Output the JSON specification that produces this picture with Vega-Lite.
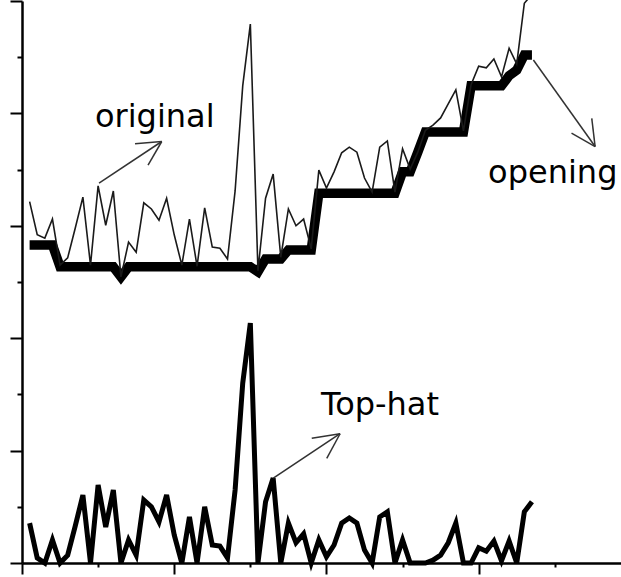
{
  "$schema": "https://vega.github.io/schema/vega-lite/v6.json",
  "width": 599,
  "height": 562,
  "autosize": {"type": "none"},
  "padding": {"left": 22, "top": 1, "right": 0, "bottom": 14},
  "background": "white",
  "config": {"view": {"stroke": null}, "axis": {"labels": false, "grid": false, "title": null, "domainColor": "#000", "domainWidth": 2.5, "tickColor": "#000", "tickWidth": 2}},
  "datasets": {
    "series": [
      {"x": 1, "original": 6.43, "opening": 5.66, "tophat": 0.71},
      {"x": 2, "original": 5.84, "opening": 5.66, "tophat": 0.09},
      {"x": 3, "original": 5.78, "opening": 5.66, "tophat": 0},
      {"x": 4, "original": 6.12, "opening": 5.66, "tophat": 0.41},
      {"x": 5, "original": 5.30, "opening": 5.27, "tophat": 0},
      {"x": 6, "original": 5.43, "opening": 5.27, "tophat": 0.14},
      {"x": 7, "original": 5.96, "opening": 5.27, "tophat": 0.66},
      {"x": 8, "original": 6.51, "opening": 5.27, "tophat": 1.21},
      {"x": 9, "original": 5.30, "opening": 5.27, "tophat": 0},
      {"x": 10, "original": 6.71, "opening": 5.27, "tophat": 1.39},
      {"x": 11, "original": 6.01, "opening": 5.27, "tophat": 0.64},
      {"x": 12, "original": 6.62, "opening": 5.27, "tophat": 1.30},
      {"x": 13, "original": 5.09, "opening": 5.09, "tophat": 0},
      {"x": 14, "original": 5.71, "opening": 5.27, "tophat": 0.41},
      {"x": 15, "original": 5.53, "opening": 5.27, "tophat": 0.14},
      {"x": 16, "original": 6.41, "opening": 5.27, "tophat": 1.12},
      {"x": 17, "original": 6.30, "opening": 5.27, "tophat": 1.00},
      {"x": 18, "original": 6.10, "opening": 5.27, "tophat": 0.73},
      {"x": 19, "original": 6.49, "opening": 5.27, "tophat": 1.21},
      {"x": 20, "original": 5.84, "opening": 5.27, "tophat": 0.50},
      {"x": 21, "original": 5.30, "opening": 5.27, "tophat": 0},
      {"x": 22, "original": 6.12, "opening": 5.27, "tophat": 0.82},
      {"x": 23, "original": 5.28, "opening": 5.27, "tophat": 0},
      {"x": 24, "original": 6.32, "opening": 5.27, "tophat": 1.00},
      {"x": 25, "original": 5.62, "opening": 5.27, "tophat": 0.32},
      {"x": 26, "original": 5.60, "opening": 5.27, "tophat": 0.30},
      {"x": 27, "original": 5.41, "opening": 5.27, "tophat": 0.09},
      {"x": 28, "original": 6.62, "opening": 5.27, "tophat": 1.30},
      {"x": 29, "original": 8.49, "opening": 5.27, "tophat": 3.20},
      {"x": 30, "original": 9.59, "opening": 5.27, "tophat": 4.27},
      {"x": 31, "original": 5.20, "opening": 5.18, "tophat": 0},
      {"x": 32, "original": 6.49, "opening": 5.41, "tophat": 1.09},
      {"x": 33, "original": 6.92, "opening": 5.41, "tophat": 1.51},
      {"x": 34, "original": 5.44, "opening": 5.41, "tophat": 0},
      {"x": 35, "original": 6.30, "opening": 5.57, "tophat": 0.71},
      {"x": 36, "original": 6.00, "opening": 5.57, "tophat": 0.36},
      {"x": 37, "original": 6.12, "opening": 5.57, "tophat": 0.52},
      {"x": 38, "original": 5.59, "opening": 5.57, "tophat": 0},
      {"x": 39, "original": 6.99, "opening": 6.58, "tophat": 0.41},
      {"x": 40, "original": 6.67, "opening": 6.58, "tophat": 0.11},
      {"x": 41, "original": 6.96, "opening": 6.58, "tophat": 0.32},
      {"x": 42, "original": 7.30, "opening": 6.58, "tophat": 0.71},
      {"x": 43, "original": 7.40, "opening": 6.58, "tophat": 0.80},
      {"x": 44, "original": 7.31, "opening": 6.58, "tophat": 0.71},
      {"x": 45, "original": 6.85, "opening": 6.58, "tophat": 0.23},
      {"x": 46, "original": 6.60, "opening": 6.58, "tophat": 0},
      {"x": 47, "original": 7.40, "opening": 6.58, "tophat": 0.82},
      {"x": 48, "original": 7.51, "opening": 6.58, "tophat": 0.91},
      {"x": 49, "original": 6.60, "opening": 6.58, "tophat": 0},
      {"x": 50, "original": 7.37, "opening": 6.96, "tophat": 0.41},
      {"x": 51, "original": 7.01, "opening": 6.96, "tophat": 0},
      {"x": 52, "original": 7.31, "opening": 7.31, "tophat": 0},
      {"x": 53, "original": 7.70, "opening": 7.67, "tophat": 0},
      {"x": 54, "original": 7.79, "opening": 7.67, "tophat": 0.05},
      {"x": 55, "original": 7.92, "opening": 7.67, "tophat": 0.14},
      {"x": 56, "original": 8.17, "opening": 7.67, "tophat": 0.36},
      {"x": 57, "original": 8.42, "opening": 7.67, "tophat": 0.71},
      {"x": 58, "original": 7.69, "opening": 7.67, "tophat": 0},
      {"x": 59, "original": 8.51, "opening": 8.49, "tophat": 0},
      {"x": 60, "original": 8.84, "opening": 8.49, "tophat": 0.27},
      {"x": 61, "original": 8.81, "opening": 8.49, "tophat": 0.21},
      {"x": 62, "original": 8.97, "opening": 8.49, "tophat": 0.39},
      {"x": 63, "original": 8.65, "opening": 8.49, "tophat": 0.04},
      {"x": 64, "original": 9.16, "opening": 8.67, "tophat": 0.39},
      {"x": 65, "original": 8.88, "opening": 8.77, "tophat": 0},
      {"x": 66, "original": 9.96, "opening": 9.04, "tophat": 0.91},
      {"x": 67, "original": 10.12, "opening": 9.04, "tophat": 1.09}
    ],
    "arrows": [
      {"x": 10.12, "y": 6.76, "x2": 18.36, "y2": 7.50},
      {"x": 14.85, "y": 7.46, "x2": 18.36, "y2": 7.50},
      {"x": 16.56, "y": 7.08, "x2": 18.36, "y2": 7.50},
      {"x": 67.19, "y": 8.95, "x2": 75.3, "y2": 7.41},
      {"x": 72.2, "y": 7.65, "x2": 75.3, "y2": 7.41},
      {"x": 74.86, "y": 7.91, "x2": 75.3, "y2": 7.41},
      {"x": 33.02, "y": 1.51, "x2": 41.79, "y2": 2.30},
      {"x": 38.07, "y": 2.22, "x2": 41.79, "y2": 2.30},
      {"x": 40.04, "y": 1.86, "x2": 41.79, "y2": 2.30}
    ],
    "labels": [
      {"x": 9.59, "y": 7.76, "label": "original"},
      {"x": 61.24, "y": 6.76, "label": "opening"},
      {"x": 39.29, "y": 2.63, "label": "Top-hat"}
    ]
  },
  "layer": [
    {
      "data": {"name": "series"},
      "mark": {"type": "line", "color": "#000", "strokeWidth": 9.5, "strokeJoin": "miter", "strokeCap": "butt"},
      "encoding": {
        "x": {
          "field": "x", "type": "quantitative", "title": null,
          "scale": {"domain": [0, 78.7], "nice": false, "zero": false},
          "axis": {
            "values": [0, 10, 20, 30, 40, 50, 60, 70],
            "labels": false, "title": null, "grid": false,
            "domainColor": "#000", "domainWidth": 2.5,
            "tickColor": "#000", "tickWidth": 2,
            "tickSize": {"condition": {"test": "datum.value % 20 === 0", "value": 11}, "value": 4}
          }
        },
        "y": {
          "field": "opening", "type": "quantitative", "title": null,
          "scale": {"domain": [0, 10], "nice": false, "zero": false},
          "axis": {
            "values": [0, 1, 2, 3, 4, 5, 6, 7, 8, 9, 10],
            "labels": false, "title": null, "grid": false,
            "domainColor": "#000", "domainWidth": 2.5,
            "tickColor": "#000", "tickWidth": 2,
            "tickSize": {"condition": {"test": "datum.value % 2 === 0", "value": 12}, "value": 5}
          }
        }
      }
    },
    {
      "data": {"name": "series"},
      "mark": {"type": "line", "color": "#1a1a1a", "strokeWidth": 1.6},
      "encoding": {
        "x": {"field": "x", "type": "quantitative", "title": null},
        "y": {"field": "original", "type": "quantitative", "title": null}
      }
    },
    {
      "data": {"name": "series"},
      "mark": {"type": "line", "color": "#000", "strokeWidth": 5, "strokeJoin": "miter"},
      "encoding": {
        "x": {"field": "x", "type": "quantitative", "title": null},
        "y": {"field": "tophat", "type": "quantitative", "title": null}
      }
    },
    {
      "data": {"name": "arrows"},
      "mark": {"type": "rule", "color": "#333", "strokeWidth": 1.5},
      "encoding": {
        "x": {"field": "x", "type": "quantitative", "title": null},
        "y": {"field": "y", "type": "quantitative", "title": null},
        "x2": {"field": "x2"},
        "y2": {"field": "y2"}
      }
    },
    {
      "data": {"name": "labels"},
      "mark": {"type": "text", "font": "DejaVu Sans", "fontSize": 32, "color": "#000", "align": "left", "baseline": "alphabetic"},
      "encoding": {
        "x": {"field": "x", "type": "quantitative", "title": null},
        "y": {"field": "y", "type": "quantitative", "title": null},
        "text": {"field": "label"}
      }
    }
  ]
}
